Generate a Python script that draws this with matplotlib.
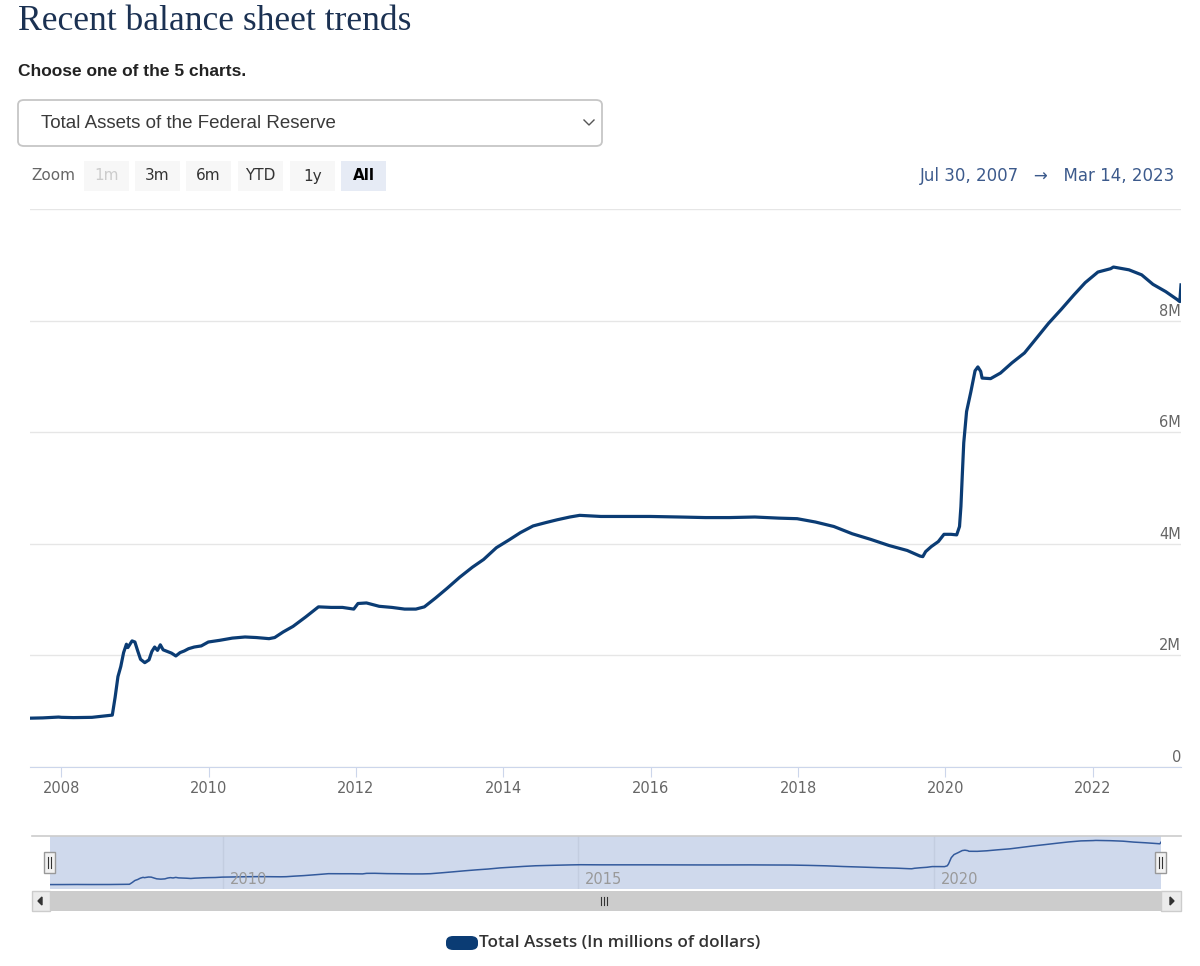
import matplotlib
matplotlib.use("Agg")
import matplotlib.pyplot as plt
import matplotlib.dates as mdates
from matplotlib.patches import Rectangle, FancyBboxPatch, Polygon
from matplotlib.lines import Line2D
import pandas as pd

# weekly Fed total assets (millions of dollars)
dates = [
    "2007-07-30", "2007-10-01", "2007-12-19", "2008-01-02", "2008-03-01", "2008-06-01",
    "2008-09-10", "2008-09-24", "2008-10-08", "2008-10-22", "2008-11-05", "2008-11-19",
    "2008-11-26", "2008-12-17", "2008-12-31", "2009-01-14", "2009-01-28", "2009-02-18",
    "2009-03-11", "2009-03-25", "2009-04-08", "2009-04-22", "2009-05-06", "2009-05-20",
    "2009-06-10", "2009-07-01", "2009-07-22", "2009-08-12", "2009-09-02", "2009-09-23",
    "2009-10-21", "2009-11-25", "2009-12-30", "2010-02-24", "2010-04-28", "2010-06-30",
    "2010-08-25", "2010-10-27", "2010-11-24", "2011-01-05", "2011-02-23", "2011-04-27",
    "2011-06-29", "2011-08-31", "2011-10-26", "2011-12-21", "2012-01-11", "2012-02-22",
    "2012-04-25", "2012-06-27", "2012-08-29", "2012-10-24", "2012-12-05", "2013-01-30",
    "2013-03-27", "2013-05-29", "2013-07-31", "2013-09-25", "2013-11-27", "2014-01-29",
    "2014-03-26", "2014-05-28", "2014-07-30", "2014-09-24", "2014-11-26", "2015-01-14",
    "2015-04-29", "2015-08-26", "2015-12-30", "2016-05-25", "2016-09-28", "2017-01-25",
    "2017-05-31", "2017-09-27", "2017-12-27", "2018-03-28", "2018-06-27", "2018-09-26",
    "2018-12-26", "2019-03-27", "2019-06-26", "2019-08-28", "2019-09-11", "2019-09-25",
    "2019-10-23", "2019-11-27", "2019-12-25", "2020-01-29", "2020-02-26", "2020-03-11",
    "2020-03-18", "2020-03-25", "2020-04-01", "2020-04-15", "2020-05-06", "2020-05-27",
    "2020-06-10", "2020-06-24", "2020-07-01", "2020-08-12", "2020-09-30", "2020-11-25",
    "2021-01-27", "2021-03-31", "2021-05-26", "2021-07-28", "2021-09-29", "2021-11-24",
    "2022-01-26", "2022-03-30", "2022-04-13", "2022-06-29", "2022-08-31", "2022-10-26",
    "2022-12-28", "2023-02-22", "2023-03-08", "2023-03-14",
]
assets = [
    875000, 880000, 895000, 890000, 885000, 890000,
    930000, 1250000, 1620000, 1800000, 2050000, 2200000,
    2140000, 2260000, 2240000, 2080000, 1930000, 1870000,
    1920000, 2070000, 2150000, 2090000, 2190000, 2100000,
    2070000, 2040000, 1990000, 2050000, 2080000, 2120000,
    2150000, 2170000, 2240000, 2270000, 2310000, 2330000,
    2320000, 2300000, 2320000, 2420000, 2520000, 2690000,
    2870000, 2860000, 2860000, 2830000, 2930000, 2940000,
    2880000, 2860000, 2830000, 2830000, 2870000, 3030000,
    3200000, 3400000, 3580000, 3720000, 3930000, 4070000,
    4200000, 4320000, 4380000, 4430000, 4480000, 4510000,
    4490000, 4490000, 4490000, 4480000, 4470000, 4470000,
    4480000, 4460000, 4450000, 4390000, 4310000, 4180000,
    4080000, 3970000, 3880000, 3780000, 3770000, 3860000,
    3950000, 4040000, 4170000, 4170000, 4160000, 4310000,
    4670000, 5250000, 5810000, 6370000, 6720000, 7100000,
    7170000, 7090000, 6970000, 6960000, 7060000, 7240000,
    7420000, 7700000, 7950000, 8200000, 8460000, 8680000,
    8870000, 8930000, 8960000, 8910000, 8820000, 8650000,
    8520000, 8380000, 8340000, 8640000,
]
y_ticks = [0, 2000000, 4000000, 6000000, 8000000, 10000000]
y_labels = ["0", "2M", "4M", "6M", "8M", ""]
zoom_buttons = ["1m", "3m", "6m", "YTD", "1y", "All"]
nav_years = ["2010-01-01", "2015-01-01", "2020-01-01"]

df = pd.DataFrame({"date": pd.to_datetime(dates), "assets": assets})

W, H = 1200, 966
LINE = "#0b3c74"
fig = plt.figure(figsize=(W / 100, H / 100), dpi=100)
fig.patch.set_facecolor("white")

def fx(x):
    return x / W

def fy(y):
    return 1 - y / H

def frect(x0, y0, x1, y1, **kw):
    # rectangle given in pixel coords (top-left origin)
    r = Rectangle((fx(x0), fy(y1)), fx(x1) - fx(x0), fy(y0) - fy(y1),
                  transform=fig.transFigure, **kw)
    fig.patches.append(r)
    return r

# header
fig.text(fx(18), fy(22), "Recent balance sheet trends", family="Liberation Serif",
         fontsize=25.6, color="#1b3152", va="center")
fig.text(fx(18), fy(72), "Choose one of the 5 charts.", family="Liberation Sans",
         fontsize=12.5, weight="bold", color="#222222", va="center")

# dropdown
dd = FancyBboxPatch((fx(18), fy(146)), fx(602) - fx(18), fy(100) - fy(146),
                    boxstyle="round,pad=0,rounding_size=0.005", transform=fig.transFigure,
                    facecolor="white", edgecolor="#c6c6c6", linewidth=1.3)
fig.patches.append(dd)
fig.text(fx(41), fy(123), "Total Assets of the Federal Reserve", family="Liberation Sans",
         fontsize=13.5, color="#3a3a3a", va="center")
fig.lines.append(Line2D([fx(584), fx(589), fx(594)], [fy(120), fy(125), fy(120)],
                        transform=fig.transFigure, color="#555555", lw=1))

# range selector buttons
fig.text(fx(31), fy(176), "Zoom", fontsize=11, color="#666666", va="center")
bx = [84, 135, 186, 238, 290, 341]
for x0, lab in zip(bx, zoom_buttons):
    sel = lab == "All"
    frect(x0, 161, x0 + 45, 191, facecolor="#e6ebf5" if sel else "#f7f7f7", edgecolor="none")
    col = "#000000" if sel else ("#cccccc" if lab == "1m" else "#333333")
    fig.text(fx(x0 + 22.5), fy(176), lab, fontsize=11, color=col, ha="center", va="center",
             weight="bold" if sel else "normal")
fig.text(fx(1175), fy(176), "Jul 30, 2007   \u2192   Mar 14, 2023", fontsize=12,
         color="#3c5a8c", ha="right", va="center")

# main chart
ax = fig.add_axes([fx(30), fy(767), fx(1181) - fx(30), fy(209) - fy(767)])
ax.plot(df["date"], df["assets"], color=LINE, lw=2.3, solid_joinstyle="round")
ax.set_xlim(df["date"].iloc[0], df["date"].iloc[-1])
ax.set_ylim(0, 10000000)
ax.set_yticks(y_ticks)
ax.yaxis.set_tick_params(length=0, labelleft=False)
ax.grid(axis="y", color="#e6e6e6", lw=1)
ax.set_axisbelow(True)
for s in ["top", "left", "right"]:
    ax.spines[s].set_visible(False)
ax.spines["bottom"].set_color("#ccd6eb")
ax.xaxis.set_major_locator(mdates.YearLocator(2))
ax.xaxis.set_major_formatter(mdates.DateFormatter("%Y"))
ax.tick_params(axis="x", length=7, color="#ccd6eb", labelsize=10.5, labelcolor="#666666", pad=3)
for v, lab in zip(y_ticks, y_labels):
    ax.annotate(lab, xy=(1, v), xycoords=("axes fraction", "data"), xytext=(0, 1.5),
                textcoords="offset points", ha="right", va="bottom", fontsize=10.5,
                color="#666666")

# navigator
nav = fig.add_axes([fx(50), fy(889), fx(1161) - fx(50), fy(836) - fy(889)])
nav.set_facecolor("#cfd9ec")
nav.plot(df["date"], df["assets"], color="#335a9c", lw=1.1)
nav.set_xlim(df["date"].iloc[0], df["date"].iloc[-1])
nav.margins(y=0.1)
nav.set_yticks([])
yr_ts = pd.to_datetime(nav_years)
nav.set_xticks(yr_ts)
nav.set_xticklabels([])
nav.tick_params(axis="x", length=0)
nav.grid(axis="x", color="#c3cde0", lw=1)
nav.set_axisbelow(True)
for yr in yr_ts:
    nav.annotate(str(yr.year), xy=(mdates.date2num(yr), 0.18), xycoords=nav.get_xaxis_transform(),
                 xytext=(5, 0), textcoords="offset points",
                 fontsize=10.5, color="#999999", va="center", ha="left")
for s in nav.spines.values():
    s.set_visible(False)
fig.lines.append(Line2D([fx(32), fx(1181)], [fy(836), fy(836)], transform=fig.transFigure,
                        color="#cccccc", lw=1.2))

# navigator handles
for hx in [44, 1155]:
    frect(hx, 852, hx + 11, 873, facecolor="#f2f2f2", edgecolor="#999999", lw=1)
    for dx in [4, 7]:
        fig.lines.append(Line2D([fx(hx + dx), fx(hx + dx)], [fy(857), fy(868)],
                                transform=fig.transFigure, color="#333333", lw=0.8))

# scrollbar
frect(50, 891, 1161, 911, facecolor="#cccccc", edgecolor="none")
frect(32, 891, 50, 911, facecolor="#ebebeb", edgecolor="#cccccc", lw=1)
frect(1161, 891, 1181, 911, facecolor="#ebebeb", edgecolor="#cccccc", lw=1)
fig.patches.append(Polygon([[fx(38), fy(901)], [fx(42), fy(897)], [fx(42), fy(905)]],
                           closed=True, transform=fig.transFigure, color="#333333"))
fig.patches.append(Polygon([[fx(1174), fy(901)], [fx(1170), fy(897)], [fx(1170), fy(905)]],
                           closed=True, transform=fig.transFigure, color="#333333"))
for gx in [601, 604, 607]:
    fig.lines.append(Line2D([fx(gx), fx(gx)], [fy(897), fy(905)], transform=fig.transFigure,
                            color="#333333", lw=0.8))

# legend
sym = FancyBboxPatch((fx(446), fy(950)), fx(478) - fx(446), fy(936) - fy(950),
                     boxstyle="round,pad=0,rounding_size=0.006", transform=fig.transFigure,
                     facecolor=LINE, edgecolor="none")
fig.patches.append(sym)
fig.text(fx(479), fy(943), "Total Assets (In millions of dollars)", family="Open Sans",
         fontsize=12.3, weight="semibold", color="#333333", va="center")

fig.savefig("out.png", dpi=100)
